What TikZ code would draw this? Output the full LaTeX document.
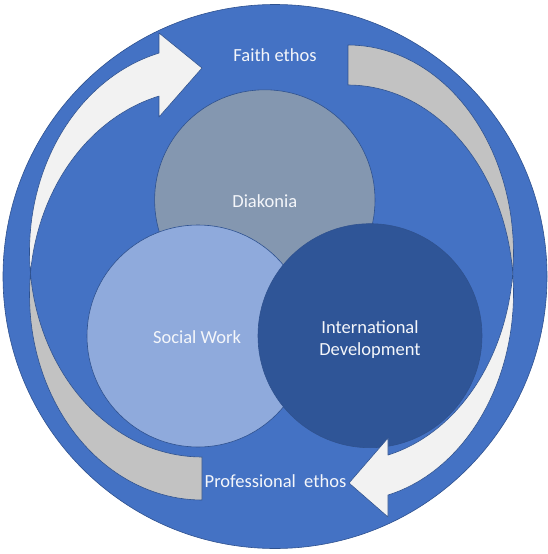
\documentclass[tikz,border=0pt]{standalone}
\usepackage{fontspec}
\setmainfont{Carlito}

\definecolor{ringblue}{HTML}{4472C4}
\definecolor{edgeblue}{HTML}{2F528F}
\definecolor{diakfill}{HTML}{8497B0}
\definecolor{swfill}{HTML}{8FAADC}
\definecolor{idfill}{HTML}{2F5597}
\definecolor{arrowfront}{HTML}{F2F2F2}
\definecolor{arrowback}{HTML}{C2C2C2}
\definecolor{labelwhite}{HTML}{F4F6FA}

\tikzset{
  disc/.style={circle, draw=edgeblue, line width=0.6pt, inner sep=0pt},
  frontface/.style={fill=arrowfront, draw=edgeblue, line width=0.6pt, line join=round},
  backface/.style={fill=arrowback, draw=edgeblue, line width=0.6pt, line join=round},
  lbl/.style={font=\fontsize{18.5}{21.7}\selectfont, text=labelwhite, anchor=base, inner sep=0pt}
}

\begin{document}
\begin{tikzpicture}[x=1pt, y=-1pt]
  \useasboundingbox (0,0) rectangle (547,554);

  % outer disc
  \node[disc, fill=ringblue, minimum size=544pt] (ring) at (275,276.5) {};

  % the three overlapping fields
  \node[disc, fill=diakfill, minimum size=220.4pt] (diak) at (264.8,200) {};
  \node[disc, fill=swfill,   minimum size=222pt]   (sw)   at (198,336) {};
  \node[disc, fill=idfill,   minimum size=224pt]   (id)   at (370,335.7) {};

  % left curved arrow: shaded back face (lower part)
  \draw[backface]
    plot[domain=173.98:90, samples=50, variable=\t]
      ({202+172.5*cos(\t)}, {251.8+205.2*sin(\t)})
    -- plot[domain=90:186.02, samples=50, variable=\t]
      ({202+172.5*cos(\t)}, {294.8+205.2*sin(\t)})
    -- cycle;
  % left curved arrow: front face with head pointing right
  \draw[frontface]
    plot[domain=173.98:255.57, samples=60, variable=\t]
      ({202+172.5*cos(\t)}, {251.8+205.2*sin(\t)})
    -- (159,33) -- (202,68) -- (159,117)
    -- plot[domain=255.57:186.02, samples=60, variable=\t]
      ({202+172.5*cos(\t)}, {294.8+205.2*sin(\t)})
    -- cycle;

  % right curved arrow: shaded back face (upper part)
  \draw[backface]
    plot[domain=-90:5.515, samples=50, variable=\t]
      ({348+165.5*cos(\t)}, {253.1+208.1*sin(\t)})
    -- plot[domain=-5.515:-90, samples=50, variable=\t]
      ({348+165.5*cos(\t)}, {293.1+208.1*sin(\t)})
    -- cycle;
  % right curved arrow: front face with head pointing left
  \draw[frontface]
    plot[domain=-5.515:76.01, samples=60, variable=\t]
      ({348+165.5*cos(\t)}, {293.1+208.1*sin(\t)})
    -- (388,517) -- (349,483) -- (388,438)
    -- plot[domain=76.01:5.515, samples=60, variable=\t]
      ({348+165.5*cos(\t)}, {253.1+208.1*sin(\t)})
    -- cycle;

  % labels (a multi-line node's base anchor sits on its last line)
  \node[lbl] (faith) at (275,61) {Faith ethos};
  \node[lbl] (prof)  at (275.5,487) {Professional\ \ ethos};
  \node[lbl] (diaktext) at (264.8,207) {Diakonia};
  \node[lbl] (swtext) at (197,343.3) {Social Work};
  \node[lbl, align=center] (idtext) at (370,355) {International\\Development};
\end{tikzpicture}
\end{document}
